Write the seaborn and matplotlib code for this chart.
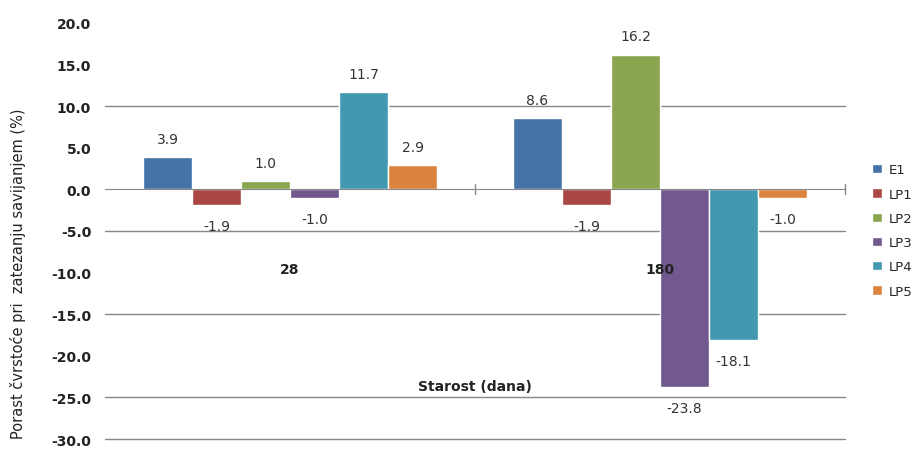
import pandas as pd
import matplotlib.pyplot as plt
import seaborn as sns

ages = ['28', '180']
series = ['E1', 'LP1', 'LP2', 'LP3', 'LP4', 'LP5']
e1 = [3.9, 8.6]
lp1 = [-1.9, -1.9]
lp2 = [1.0, 16.2]
lp3 = [-1.0, -23.8]
lp4 = [11.7, -18.1]
lp5 = [2.9, -1.0]
colors = ['#4572A7', '#AA4643', '#89A54E', '#71588F', '#4198AF', '#DB843D']

rows = []
for name, vals in zip(series, [e1, lp1, lp2, lp3, lp4, lp5]):
    for age, v in zip(ages, vals):
        rows.append({'age': age, 'series': name, 'value': v})
df = pd.DataFrame(rows)

sns.set_style('white')
plt.rcParams['font.family'] = ['DejaVu Sans']

fig = plt.figure(figsize=(9.22, 4.52), dpi=100)
ax = fig.add_axes([0.1139, 0.0265, 0.8026, 0.9205])

sns.barplot(data=df, x='age', y='value', hue='series', order=ages, hue_order=series,
            palette=colors, width=0.795, gap=0, saturation=1, ax=ax, legend=True)

ax.set_ylim(-30, 20)
ax.set_yticks(range(-30, 21, 5))
ax.set_yticklabels([f'{t:.1f}' for t in range(-30, 21, 5)], fontsize=10, fontweight='bold', color='#222222')
# the gridlines that survive in the reference picture
for g in [10, -5, -15, -25, -30]:
    ax.axhline(g, color='#888888', lw=1, zorder=0, clip_on=False)
ax.set_xlim(-0.5, 1.5)
ax.set_axisbelow(False)  # category labels sit on top of the bars

for s in ['left', 'right', 'top']:
    ax.spines[s].set_visible(False)
ax.spines['bottom'].set_position(('data', 0))
ax.spines['bottom'].set_color('#888888')
ax.tick_params(axis='y', length=0, pad=10)
ax.tick_params(axis='x', length=0, pad=52)
for lab in ax.get_xticklabels():
    lab.set_fontweight('bold')
    lab.set_fontsize(10)
    lab.set_color('#222222')
# category separator ticks on the zero line
for xb in [0.5, 1.5]:
    ax.plot([xb, xb], [0.6, -0.5], color='#888888', lw=1, clip_on=False)

for cont in ax.containers:
    for bar in cont:
        h = bar.get_height()
        xc = bar.get_x() + bar.get_width() / 2
        if h >= 0:
            ax.annotate(f'{h:.1f}', (xc, h), xytext=(0, 8), textcoords='offset points',
                        ha='center', va='bottom', fontsize=10, color='#333333')
        else:
            ax.annotate(f'{h:.1f}', (xc, h), xytext=(0, -10), textcoords='offset points',
                        ha='center', va='top', fontsize=10, color='#333333')

ax.set_xlabel('Starost (dana)', fontsize=10, fontweight='bold', color='#222222')
ax.xaxis.set_label_coords(0.5, 0.145)
ax.set_ylabel('Porast čvrstoće pri  zatezanju savijanjem (%)', fontsize=10.5, color='#222222')
ax.yaxis.set_label_coords(-0.107, 0.4)

ax.legend(loc='upper left', bbox_to_anchor=(1.03, 0.675), frameon=False, fontsize=9.5,
          handlelength=0.7, handleheight=0.7, labelspacing=0.85, handletextpad=0.5,
          borderaxespad=0)

fig.savefig('out.png', dpi=100)
